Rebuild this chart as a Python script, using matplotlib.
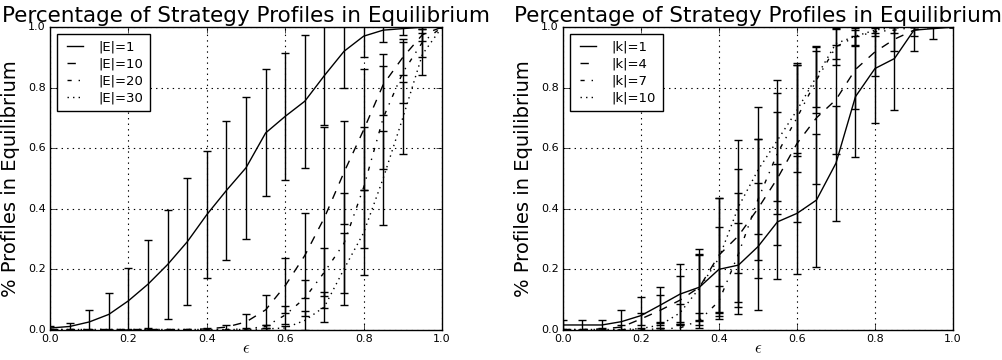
import numpy as np
import matplotlib
matplotlib.use('Agg')
from matplotlib import pyplot as plt

plt.style.use('classic')
plt.rcParams['font.family'] = 'DejaVu Sans'

eps = [0.0, 0.05, 0.1, 0.15, 0.2, 0.25, 0.3, 0.35, 0.4, 0.45, 0.5,
       0.55, 0.6, 0.65, 0.7, 0.75, 0.8, 0.85, 0.9, 0.95, 1.0]

# left panel: |E|
e_labels = ['|E|=1', '|E|=10', '|E|=20', '|E|=30']
e1_mean = [0.005, 0.01, 0.025, 0.05, 0.095, 0.15, 0.215, 0.29, 0.38, 0.46, 0.535,
           0.65, 0.705, 0.755, 0.84, 0.92, 0.97, 0.99, 0.995, 1.0, 1.0]
e1_std = [0.005, 0.012, 0.04, 0.07, 0.11, 0.145, 0.18, 0.21, 0.21, 0.23, 0.235,
          0.21, 0.21, 0.22, 0.165, 0.12, 0.07, 0.04, 0.02, 0.005, 0.0]
e10_mean = [0.0, 0.0, 0.0, 0.0, 0.0, 0.0, 0.0, 0.0, 0.002, 0.008, 0.025,
            0.065, 0.145, 0.245, 0.37, 0.52, 0.66, 0.81, 0.9, 0.975, 1.0]
e10_std = [0.0, 0.0, 0.0, 0.0, 0.0, 0.0, 0.0, 0.0, 0.002, 0.008, 0.025,
           0.05, 0.09, 0.14, 0.3, 0.17, 0.2, 0.1, 0.06, 0.02, 0.0]
e20_mean = [0.0, 0.0, 0.0, 0.0, 0.0, 0.0, 0.0, 0.0, 0.0, 0.0, 0.002,
            0.01, 0.048, 0.104, 0.19, 0.285, 0.47, 0.7, 0.85, 0.95, 1.0]
e20_std = [0.0, 0.0, 0.0, 0.0, 0.0, 0.0, 0.0, 0.0, 0.0, 0.0, 0.002,
           0.005, 0.03, 0.06, 0.08, 0.165, 0.2, 0.17, 0.1, 0.05, 0.0]
e30_mean = [0.0, 0.0, 0.0, 0.0, 0.0, 0.0, 0.0, 0.0, 0.0, 0.0, 0.0,
            0.002, 0.005, 0.03, 0.075, 0.2, 0.32, 0.5, 0.7, 0.91, 1.0]
e30_std = [0.0, 0.0, 0.0, 0.0, 0.0, 0.0, 0.0, 0.0, 0.0, 0.0, 0.0,
           0.002, 0.005, 0.03, 0.05, 0.12, 0.14, 0.155, 0.12, 0.07, 0.0]

# right panel: |k|
k_labels = ['|k|=1', '|k|=4', '|k|=7', '|k|=10']
k1_mean = [0.015, 0.015, 0.015, 0.026, 0.046, 0.081, 0.117, 0.14, 0.199, 0.213, 0.274,
           0.356, 0.384, 0.428, 0.55, 0.77, 0.863, 0.896, 0.99, 0.995, 1.0]
k1_std = [0.017, 0.017, 0.017, 0.04, 0.06, 0.06, 0.1, 0.125, 0.14, 0.14, 0.21,
          0.19, 0.2, 0.22, 0.19, 0.2, 0.18, 0.17, 0.07, 0.035, 0.0]
k4_mean = [0.0, 0.0, 0.002, 0.008, 0.035, 0.064, 0.097, 0.14, 0.246, 0.31, 0.4,
           0.5, 0.615, 0.7, 0.76, 0.86, 0.918, 0.96, 0.99, 1.0, 1.0]
k4_std = [0.0, 0.0, 0.002, 0.008, 0.02, 0.05, 0.08, 0.11, 0.19, 0.22, 0.23,
          0.22, 0.26, 0.22, 0.18, 0.13, 0.08, 0.04, 0.02, 0.0, 0.0]
k7_mean = [0.0, 0.0, 0.0, 0.0, 0.0, 0.002, 0.005, 0.03, 0.094, 0.25, 0.43,
           0.583, 0.7, 0.825, 0.935, 0.968, 0.985, 0.99, 1.0, 1.0, 1.0]
k7_std = [0.0, 0.0, 0.0, 0.0, 0.0, 0.002, 0.01, 0.025, 0.05, 0.2, 0.2,
          0.2, 0.18, 0.11, 0.06, 0.03, 0.015, 0.01, 0.0, 0.0, 0.0]
k10_mean = [0.0, 0.0, 0.0, 0.0, 0.003, 0.015, 0.055, 0.137, 0.236, 0.406, 0.527,
            0.626, 0.725, 0.836, 0.946, 0.97, 0.99, 1.0, 1.0, 1.0, 1.0]
k10_std = [0.0, 0.0, 0.0, 0.0, 0.003, 0.01, 0.03, 0.11, 0.2, 0.22, 0.21,
           0.2, 0.15, 0.1, 0.05, 0.03, 0.01, 0.0, 0.0, 0.0, 0.0]

styles = ['-', '--', '-.', ':']

fig = plt.figure(figsize=(10.03, 3.6), dpi=100, facecolor='white')
ax1 = fig.add_axes([0.0499, 0.0847, 0.3908, 0.840])
ax2 = fig.add_axes([0.5613, 0.0847, 0.3888, 0.840])

panels = [
    (ax1, e_labels, [e1_mean, e10_mean, e20_mean, e30_mean], [e1_std, e10_std, e20_std, e30_std]),
    (ax2, k_labels, [k1_mean, k4_mean, k7_mean, k10_mean], [k1_std, k4_std, k7_std, k10_std]),
]

for ax, labels, means, stds in panels:
    for lab, m, s, ls in zip(labels, means, stds, styles):
        ax.plot(eps, m, color='black', linestyle=ls, linewidth=1, label=lab)
        ax.errorbar(eps, m, yerr=s, fmt='none', ecolor='black', elinewidth=1,
                    capsize=3, capthick=1)
    ax.set_xlim(0, 1)
    ax.set_ylim(0, 1)
    ax.grid(True, color='black', linestyle=':', linewidth=0.8)
    ax.tick_params(labelsize=8, direction='in', length=4, pad=3)
    ax.set_xticks([0.0, 0.2, 0.4, 0.6, 0.8, 1.0])
    ax.set_yticks([0.0, 0.2, 0.4, 0.6, 0.8, 1.0])
    ax.set_xlabel(r'$\epsilon$', fontsize=12, labelpad=-3)
    ax.set_ylabel('% Profiles in Equilibrium', fontsize=14, labelpad=6)
    ax.set_title('Percentage of Strategy Profiles in Equilibrium', fontsize=15.5, pad=4)
    leg = ax.legend(loc='upper left', fontsize=9.5, handlelength=1.8, handletextpad=0.9,
                    borderpad=0.5, labelspacing=0.3, fancybox=False)
    leg.get_frame().set_linewidth(1)

fig.savefig('out.png', dpi=100, facecolor='white')
